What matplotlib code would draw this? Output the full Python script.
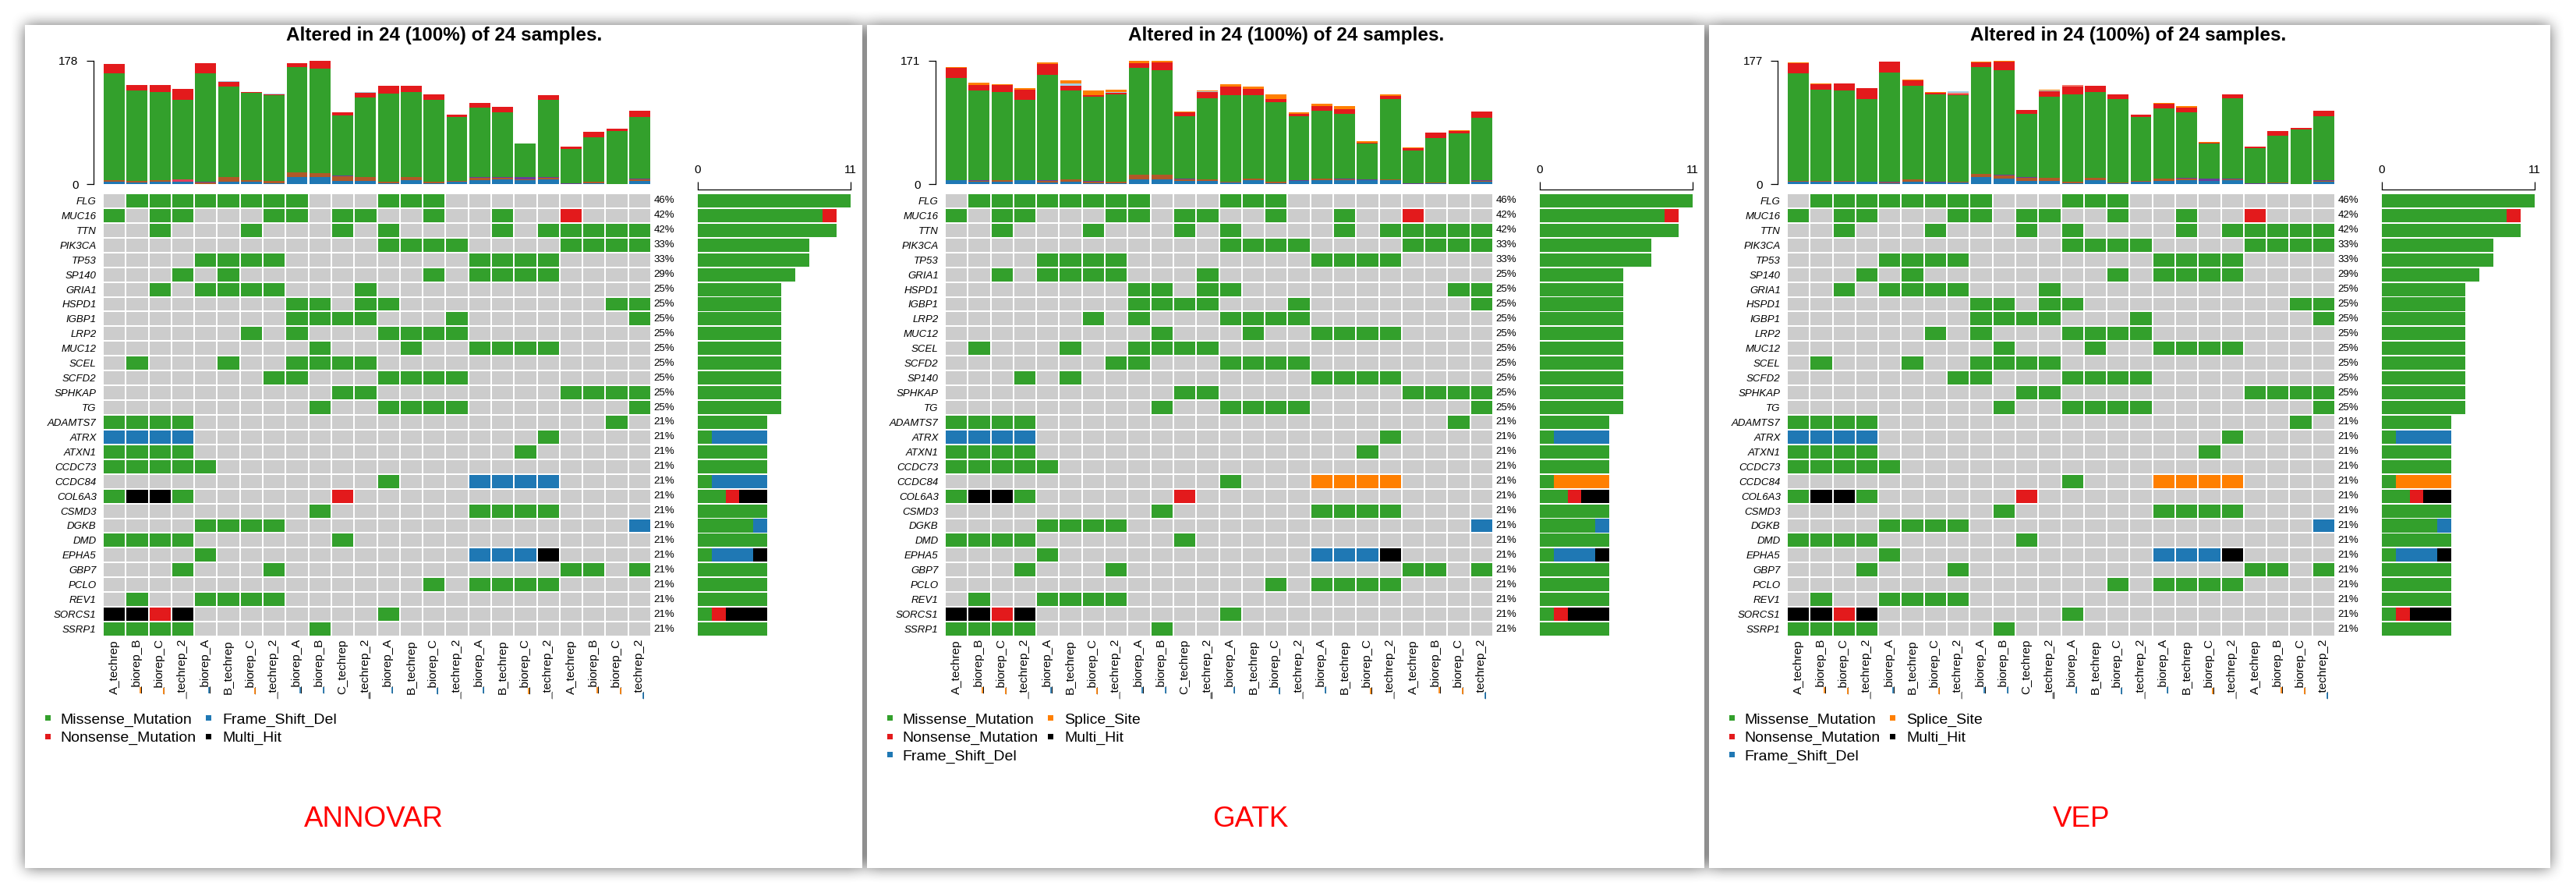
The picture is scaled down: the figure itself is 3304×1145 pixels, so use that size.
import numpy as np
import matplotlib.pyplot as plt
from matplotlib.colors import ListedColormap
from matplotlib.patches import Rectangle
from matplotlib.lines import Line2D
from matplotlib.transforms import IdentityTransform

plt.rcParams['font.family'] = ['Liberation Sans', 'DejaVu Sans']

W, H = 3304, 1145

# ---------------- data ----------------
samples = ["A_techrep", "_biorep_B", "_biorep_C", "_techrep_2", "_biorep_A", "B_techrep",
           "_biorep_C", "_techrep_2", "_biorep_A", "_biorep_B", "C_techrep", "_techrep_2",
           "_biorep_A", "B_techrep", "_biorep_C", "_techrep_2", "_biorep_A", "B_techrep",
           "_biorep_C", "_techrep_2", "A_techrep", "_biorep_B", "_biorep_C", "_techrep_2"]

# M = Missense, N = Nonsense, F = Frame_Shift_Del, S = Splice_Site, X = Multi_Hit
genes_annovar = ["FLG", "MUC16", "TTN", "PIK3CA", "TP53", "SP140", "GRIA1", "HSPD1", "IGBP1",
                 "LRP2", "MUC12", "SCEL", "SCFD2", "SPHKAP", "TG", "ADAMTS7", "ATRX", "ATXN1",
                 "CCDC73", "CCDC84", "COL6A3", "CSMD3", "DGKB", "DMD", "EPHA5", "GBP7", "PCLO",
                 "REV1", "SORCS1", "SSRP1"]
calls_annovar = [
    ".MMMMMMMM...MMM.........",
    "M.MM...MM.MM..M..M..N...",
    "..M...M...M.M....M.MMMMM",
    "............MMMM....MMMM",
    "....MMMM........MMMM....",
    "...M.M........M.MMMM....",
    "..M.MMMM...M............",
    "........MM.MM.........MM",
    "........MMMM...M.......M",
    "......M.M...MMMM........",
    ".........M...M..MMMM....",
    ".M...M..MMMM............",
    ".......MM...MMMM........",
    "..........MM........MMMM",
    ".........M..MMMM.......M",
    "MMMM..................M.",
    "FFFF...............M....",
    "MMMM..............M.....",
    "MMMMM...................",
    "............M...FFFF....",
    "MXXM......N.............",
    ".........M......MMMM....",
    "....MMMM...............F",
    "MMMM......M.............",
    "....M...........FFFX....",
    "...M...M............MM.M",
    "..............M.MMMM....",
    ".M..MMMM................",
    "XXNX........M...........",
    "MMMM.....M..............",
]

genes_gatk = ["FLG", "MUC16", "TTN", "PIK3CA", "TP53", "GRIA1", "HSPD1", "IGBP1", "LRP2",
              "MUC12", "SCEL", "SCFD2", "SP140", "SPHKAP", "TG", "ADAMTS7", "ATRX", "ATXN1",
              "CCDC73", "CCDC84", "COL6A3", "CSMD3", "DGKB", "DMD", "EPHA5", "GBP7", "PCLO",
              "REV1", "SORCS1", "SSRP1"]
calls_gatk = [
    ".MMMMMMMM...MMM.........",
    "M.MM...MM.MM..M..M..N...",
    "..M...M...M.M....M.MMMMM",
    "............MMMM....MMMM",
    "....MMMM........MMMM....",
    "..M.MMMM...M............",
    "........MM.MM.........MM",
    "........MMMM...M.......M",
    "......M.M...MMMM........",
    ".........M...M..MMMM....",
    ".M...M..MMMM............",
    ".......MM...MMMM........",
    "...M.M..........MMMM....",
    "..........MM........MMMM",
    ".........M..MMMM.......M",
    "MMMM..................M.",
    "FFFF...............M....",
    "MMMM..............M.....",
    "MMMMM...................",
    "............M...SSSS....",
    "MXXM......N.............",
    ".........M......MMMM....",
    "....MMMM...............F",
    "MMMM......M.............",
    "....M...........FFFX....",
    "...M...M............MM.M",
    "..............M.MMMM....",
    ".M..MMMM................",
    "XXNX........M...........",
    "MMMM.....M..............",
]

genes_vep = genes_annovar
calls_vep = [
    ".MMMMMMMM...MMM.........",
    "M.MM...MM.MM..M..M..N...",
    "..M...M...M.M....M.MMMMM",
    "............MMMM....MMMM",
    "....MMMM........MMMM....",
    "...M.M........M.MMMM....",
    "..M.MMMM...M............",
    "........MM.MM.........MM",
    "........MMMM...M.......M",
    "......M.M...MMMM........",
    ".........M...M..MMMM....",
    ".M...M..MMMM............",
    ".......MM...MMMM........",
    "..........MM........MMMM",
    ".........M..MMMM.......M",
    "MMMM..................M.",
    "FFFF...............M....",
    "MMMM..............M.....",
    "MMMMM...................",
    "............M...SSSS....",
    "MXXM......N.............",
    ".........M......MMMM....",
    "....MMMM...............F",
    "MMMM......M.............",
    "....M...........FFFX....",
    "...M...M............MM.M",
    "..............M.MMMM....",
    ".M..MMMM................",
    "XXNX........M...........",
    "MMMM.....M..............",
]

# mutation burden per sample (stacked, bottom to top)
annovar_fsdel = [3, 2, 3, 3, 0, 3, 3, 1, 10, 10, 5, 4, 1, 6, 1, 3, 6, 7, 6, 7, 0, 1, 0, 5]
annovar_ifdel = [3, 3, 3, 0, 2, 7, 3, 4, 7, 6, 6, 6, 2, 4, 2, 2, 3, 2, 1, 2, 0, 2, 0, 2]
annovar_fsins = [0, 0, 0, 0, 1, 0, 0, 0, 0, 0, 1, 0, 0, 0, 0, 0, 1, 1, 3, 1, 1, 0, 0, 1]
annovar_ifins = [0, 0, 0, 4, 0, 0, 0, 0, 0, 0, 0, 0, 0, 0, 0, 0, 0, 0, 0, 0, 0, 0, 0, 0]
annovar_miss = [154, 130, 127, 115, 157, 130, 125, 123, 152, 150, 87, 115, 127, 123, 119, 92,
                100, 94, 48, 112, 50, 64, 76, 89]
annovar_non = [13, 8, 10, 15, 14, 7, 2, 1, 5, 12, 5, 7, 12, 9, 7, 3, 7, 7, 0, 6, 3, 8, 4, 9]
annovar_nonstop = [0, 0, 0, 0, 0, 1, 0, 1, 0, 0, 0, 1, 0, 0, 0, 0, 0, 0, 0, 0, 0, 0, 0, 0]

gatk_fsdel = [5, 3, 3, 5, 2, 3, 1, 1, 7, 7, 4, 4, 2, 5, 1, 4, 5, 5, 5, 5, 0, 1, 0, 3]
gatk_ifdel = [0, 1, 2, 0, 2, 4, 2, 2, 6, 6, 3, 3, 1, 3, 2, 0, 3, 2, 0, 1, 0, 1, 0, 1]
gatk_fsins = [0, 1, 0, 0, 1, 0, 1, 0, 0, 0, 1, 0, 0, 0, 0, 1, 0, 1, 2, 1, 1, 0, 0, 1]
gatk_miss = [142, 125, 122, 112, 146, 123, 117, 121, 148, 145, 86, 112, 120, 115, 110, 89,
             94, 89, 49, 111, 45, 62, 70, 87]
gatk_non = [14, 7, 10, 14, 15, 6, 2, 2, 6, 10, 5, 9, 12, 9, 5, 3, 6, 7, 1, 4, 4, 7, 3, 8]
gatk_nonstop = [0, 0, 0, 0, 0, 3, 0, 1, 0, 0, 0, 1, 0, 0, 0, 0, 0, 0, 0, 0, 0, 0, 0, 0]
gatk_splice = [1, 3, 1, 2, 3, 5, 7, 4, 4, 3, 1, 1, 3, 3, 6, 2, 3, 4, 2, 2, 1, 0, 1, 1]

vep_fsdel = [3, 3, 3, 3, 1, 3, 2, 2, 10, 8, 5, 5, 1, 6, 1, 3, 5, 6, 5, 6, 0, 1, 0, 3]
vep_ifdel = [2, 2, 2, 0, 1, 4, 0, 1, 5, 4, 4, 4, 2, 3, 1, 1, 3, 2, 0, 1, 0, 1, 0, 2]
vep_fsins = [0, 0, 0, 0, 1, 0, 1, 0, 0, 1, 1, 0, 0, 0, 0, 1, 0, 1, 3, 1, 1, 0, 0, 1]
vep_miss = [154, 130, 129, 119, 157, 134, 126, 124, 153, 150, 91, 116, 126, 123, 120, 91,
            100, 94, 50, 115, 50, 67, 78, 91]
vep_non = [14, 8, 10, 16, 15, 8, 2, 2, 6, 13, 5, 8, 11, 9, 7, 3, 7, 7, 1, 6, 3, 7, 3, 8]
vep_silent = [0, 0, 0, 0, 0, 0, 0, 2, 0, 0, 0, 0, 2, 0, 0, 0, 0, 0, 0, 0, 0, 0, 0, 0]
vep_nonstop = [0, 0, 0, 0, 0, 0, 0, 2, 0, 0, 0, 1, 0, 0, 0, 0, 0, 0, 0, 0, 0, 0, 0, 0]
vep_splice = [1, 1, 0, 0, 1, 1, 1, 0, 1, 1, 0, 1, 0, 0, 0, 0, 1, 2, 1, 0, 0, 0, 0, 0]

# ---------------- styles ----------------
GREEN, RED, BLUE = '#33A02C', '#E31A1C', '#1F78B4'
ORANGE, BLACK, GREY = '#FF7F00', '#000000', '#CCCCCC'
BROWN, PURPLE, LIGHT, ROSE, PINK = '#B15928', '#6A3D9A', '#A6CEE3', '#E0405A', '#F2756A'

code_of = {'.': 0, 'M': 1, 'N': 2, 'F': 3, 'S': 4, 'X': 5}
cell_cmap = ListedColormap([GREY, GREEN, RED, BLUE, ORANGE, BLACK])
type_cols = {'M': GREEN, 'N': RED, 'F': BLUE, 'S': ORANGE, 'X': BLACK}

under_cols = [None, ORANGE, ORANGE, '#999999', BLUE, None, ORANGE, '#999999', BLUE, BLUE,
              None, '#999999', BLUE, None, BLUE, '#999999', BLUE, None, ORANGE, '#999999',
              None, ORANGE, ORANGE, BLUE]

legend4 = [("Missense_Mutation", GREEN), ("Nonsense_Mutation", RED),
           ("Frame_Shift_Del", BLUE), ("Multi_Hit", BLACK)]
legend5 = [("Missense_Mutation", GREEN), ("Nonsense_Mutation", RED),
           ("Frame_Shift_Del", BLUE), ("Splice_Site", ORANGE), ("Multi_Hit", BLACK)]

panels = [
    dict(x0=32, name="ANNOVAR", name_x=447, genes=genes_annovar, calls=calls_annovar,
         stacks=[(annovar_fsdel, BLUE), (annovar_ifdel, BROWN), (annovar_fsins, PURPLE),
                 (annovar_ifins, ROSE), (annovar_miss, GREEN), (annovar_non, RED),
                 (annovar_nonstop, LIGHT)],
         legend=legend4, nrows=2),
    dict(x0=1112, name="GATK", name_x=492, genes=genes_gatk, calls=calls_gatk,
         stacks=[(gatk_fsdel, BLUE), (gatk_ifdel, BROWN), (gatk_fsins, PURPLE),
                 (gatk_miss, GREEN), (gatk_non, RED), (gatk_nonstop, LIGHT),
                 (gatk_splice, ORANGE)],
         legend=legend5, nrows=3),
    dict(x0=2192, name="VEP", name_x=478, genes=genes_vep, calls=calls_vep,
         stacks=[(vep_fsdel, BLUE), (vep_ifdel, BROWN), (vep_fsins, PURPLE),
                 (vep_miss, GREEN), (vep_non, RED), (vep_silent, PINK),
                 (vep_nonstop, LIGHT), (vep_splice, ORANGE)],
         legend=legend5, nrows=3),
]

fig = plt.figure(figsize=(W / 100, H / 100), dpi=100)


def px_axes(x0, y0, x1, y1):
    ax = fig.add_axes([x0 / W, 1 - y1 / H, (x1 - x0) / W, (y1 - y0) / H])
    ax.patch.set_alpha(0)
    return ax


def blur1d(a, r, axis):
    pad = [(0, 0), (0, 0)]
    pad[axis] = (r + 1, r)
    c = np.cumsum(np.pad(a, pad, mode='edge'), axis=axis)
    if axis == 0:
        return (c[2 * r + 1:] - c[:-2 * r - 1]) / (2 * r + 1)
    return (c[:, 2 * r + 1:] - c[:, :-2 * r - 1]) / (2 * r + 1)


# background with card shadows
cards = [(32, 1106), (1112, 2186), (2192, 3271)]
CT, CB = 32, 1113
mask = np.zeros((H, W))
for a, b in cards:
    mask[CT:CB, a:b] = 1.0
soft = mask
for _ in range(2):
    soft = blur1d(blur1d(soft, 10, 0), 10, 1)
bg = px_axes(0, 0, W, H)
bg.imshow(1 - 0.6 * soft, cmap='gray', vmin=0, vmax=1, extent=(0, W, H, 0),
          interpolation='nearest', aspect='auto')
for a, b in cards:
    bg.add_patch(Rectangle((a, CT), b - a, CB - CT, facecolor='white', edgecolor='none'))
bg.set_xlim(0, W)
bg.set_ylim(H, 0)
bg.axis('off')

n_s = len(samples)
xs = np.arange(n_s)
marked_labels = []

for p in panels:
    px = p['x0']
    genes, calls = p['genes'], p['calls']
    n_g = len(genes)

    # title
    bg.text(px + 538, 52, "Altered in 24 (100%) of 24 samples.", ha='center', va='baseline',
            fontsize=17.5, fontweight='bold')

    # top bar plot (mutations per sample)
    axt = px_axes(px + 100, 77.7, px + 803, 236)
    bottom = np.zeros(n_s)
    for vals, col in p['stacks']:
        vals = np.array(vals, dtype=float)
        axt.bar(xs, vals, 0.92, bottom=bottom, color=col, linewidth=0)
        bottom += vals
    ymax = bottom.max()
    axt.set_xlim(-0.5, n_s - 0.5)
    axt.set_ylim(0, ymax)
    axt.set_xticks([])
    axt.set_yticks([0, ymax])
    axt.set_yticklabels(['0', str(int(ymax))])
    for s in ['top', 'right', 'bottom']:
        axt.spines[s].set_visible(False)
    axt.spines['left'].set_position(('outward', 8.5))
    axt.spines['left'].set_linewidth(0.9)
    axt.tick_params(axis='y', length=6.5, width=0.9, labelsize=11, pad=7.5)

    # oncoplot matrix
    axm = px_axes(px + 100, 248, px + 803, 816)
    Z = np.array([[code_of[c] for c in row] for row in calls])
    axm.pcolormesh(np.arange(n_s + 1) - 0.5, np.arange(n_g + 1) - 0.5, Z, cmap=cell_cmap,
                   vmin=-0.5, vmax=5.5, edgecolors='white', linewidth=1.3)
    axm.set_xlim(-0.5, n_s - 0.5)
    axm.set_ylim(n_g - 0.5, -0.5)
    axm.set_yticks(range(n_g))
    axm.set_yticklabels(genes, fontstyle='italic', fontsize=9.5)
    axm.tick_params(axis='y', length=0, pad=6)
    axm.set_xticks([])
    for s in axm.spines.values():
        s.set_visible(False)
    ytr = axm.get_yaxis_transform()
    for i, row in enumerate(calls):
        pct = round(100 * sum(c != '.' for c in row) / n_s)
        axm.text(1.005, i, f"{pct}%", transform=ytr, ha='left', va='center', fontsize=9.5)

    # sample labels
    xtr = axm.get_xaxis_transform()
    ylab = -4 / 568
    for j, s in enumerate(samples):
        t = axm.text(j, ylab, s, transform=xtr, rotation=90, ha='center', va='top',
                     fontsize=11, color='black', clip_on=False)
        if s.startswith('_') and under_cols[j]:
            marked_labels.append((t, under_cols[j]))

    # right bar plot (per gene)
    axr = px_axes(px + 863, 248, px + 1059, 816)
    left = np.zeros(n_g)
    for t in 'MNFSX':
        cnt = np.array([row.count(t) for row in calls], dtype=float)
        if cnt.sum() > 0:
            axr.barh(np.arange(n_g), cnt, height=0.9, left=left, color=type_cols[t],
                     linewidth=0)
        left += cnt
    xmax = left.max()
    axr.set_xlim(0, xmax)
    axr.set_ylim(n_g - 0.5, -0.5)
    axr.set_yticks([])
    for s in ['bottom', 'left', 'right']:
        axr.spines[s].set_visible(False)
    axr.spines['top'].set_position(('outward', 3.6))
    axr.spines['top'].set_linewidth(0.9)
    axr.xaxis.tick_top()
    axr.set_xticks([0, xmax])
    axr.set_xticklabels(['0', str(int(xmax))])
    axr.tick_params(axis='x', length=7, width=0.9, labelsize=11, pad=6)

    # legend
    for k, (lab, col) in enumerate(p['legend']):
        c, r = divmod(k, p['nrows'])
        yc = 920.5 + r * 23.5
        sx = px + (26 if c == 0 else 232)
        tx = px + (45 if c == 0 else 253)
        bg.add_patch(Rectangle((sx, yc - 3.5), 7, 7, facecolor=col, edgecolor='none'))
        bg.text(tx, yc + 7, lab, ha='left', va='baseline', fontsize=14)

    # tool name
    bg.text(px + p['name_x'], 1060, p['name'], ha='center', va='baseline', fontsize=26.5,
            color='#FF0000')

# colour the leading underscore of the sample labels
fig.canvas.draw()
renderer = fig.canvas.get_renderer()
for t, col in marked_labels:
    bb = t.get_window_extent(renderer)
    xl = bb.x1 - 2.5
    fig.add_artist(Line2D([xl, xl], [bb.y0 + 0.5, bb.y0 + 8.5], transform=IdentityTransform(),
                          color=col, linewidth=1.2, solid_capstyle='butt'))

fig.savefig('out.png', dpi=100)
